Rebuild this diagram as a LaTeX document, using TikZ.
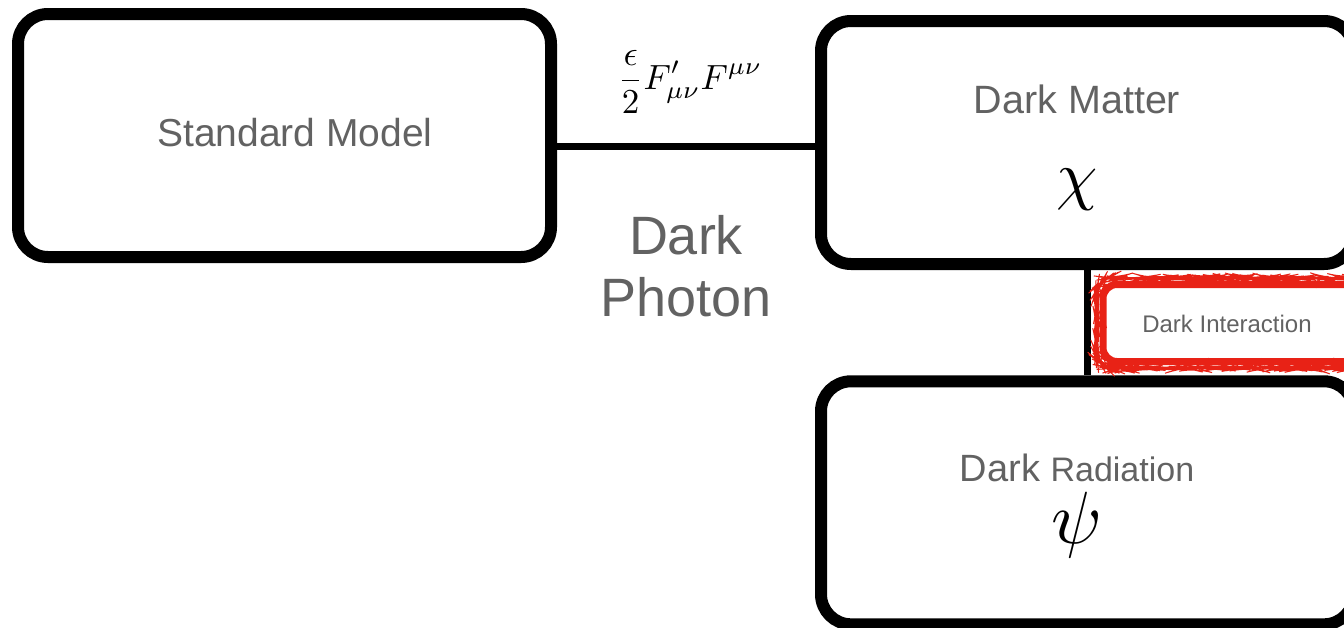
\documentclass[tikz,border=0pt]{standalone}
\usepackage{graphicx}
\usepackage{fontspec}
\setmainfont{Liberation Sans}
\usetikzlibrary{decorations.pathmorphing,calc}
\definecolor{txtgray}{RGB}{98,98,98}
\definecolor{chalkred}{RGB}{232,34,22}
\begin{document}
\begin{tikzpicture}[x=1pt,y=-1pt,
  box/.style={draw=black, line width=12pt, rounded corners=30pt, inner sep=0pt,
              minimum width=533pt, minimum height=243pt},
  link/.style={draw=black, line width=7pt},
  lbl/.style={text=txtgray, inner sep=0pt},
  chalkbox/.style={draw=chalkred, line width=7pt, rounded corners=14pt, inner sep=0pt},
  chalkfuzz/.style={draw=chalkred, line width=1pt,
              decorate, decoration={random steps, segment length=2.5pt, amplitude=0.5pt}},
]
\pgfmathsetseed{7}
\path[use as bounding box, clip] (0,0) rectangle (1344,627);
% boxes
\node[box] (sm) at (284.5,135.5) {};
\node[box] (dm) at (1087.5,142.5) {};
\node[box] (dr) at (1087.5,502.8) {};
% connectors
\coordinate (hl) at (0,146);
\draw[link] (sm.east |- hl) -- (dm.west |- hl);
\draw[link] (dm.south) -- (dr.north);
% red chalk box
\node[chalkbox, minimum width=264pt, minimum height=77pt] (dint) at (1235,323) {};
\draw[chalkfuzz, rounded corners=17pt] ([shift={(-3,-3)}]dint.north west) rectangle ([shift={(3,3)}]dint.south east);
\draw[chalkfuzz, rounded corners=11pt] ([shift={(3,3)}]dint.north west) rectangle ([shift={(-3,-3)}]dint.south east);
% texts
\node[lbl, font=\fontsize{39}{46}\selectfont] (smt) at (295,133) {Standard Model};
\node[lbl, font=\fontsize{39.5}{47}\selectfont, anchor=base] (dmt) at (1077,113) {Dark Matter};
\node[inner sep=0pt] (chi) at (1077,189.5) {\scalebox{6.6}{$\chi$}};
\node[lbl, anchor=base] (drt) at (1077,481) {\fontsize{38}{46}\selectfont Dark \fontsize{34}{40}\selectfont Radiation};
\node[inner sep=0pt] (psi) at (1077,525) {\scalebox{7.4}{$\psi$}};
\node[inner sep=0pt] (eq) at (690,82) {\scalebox{3.5}{$\displaystyle\frac{\epsilon}{2}F'_{\mu\nu}F^{\mu\nu}$}};
\node[lbl, align=center, font=\fontsize{54}{62}\selectfont] (dp) at (686,266) {Dark\\Photon};
\node[lbl, font=\fontsize{24}{28}\selectfont] (dit) at (1227,324) {Dark Interaction};
\end{tikzpicture}
\end{document}
